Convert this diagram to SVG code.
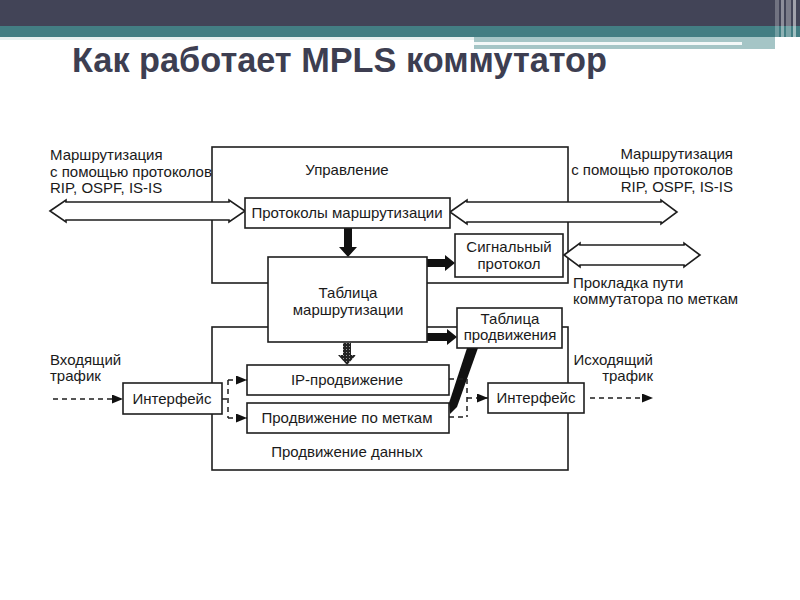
<svg xmlns="http://www.w3.org/2000/svg" width="800" height="600" viewBox="0 0 800 600">
<defs>
<style>
.t{font-family:"Liberation Sans",Arial,sans-serif;font-size:15px;fill:#1a1a1a}
.m{text-anchor:middle}
.e{text-anchor:end}
.box{fill:#fff;stroke:#1e1e1e;stroke-width:1.6}
.frame{fill:none;stroke:#1e1e1e;stroke-width:1.6}
.hol{fill:#fff;stroke:#1e1e1e;stroke-width:1.6;stroke-linejoin:miter}
.thick{fill:#111}
.dash{fill:none;stroke:#1e1e1e;stroke-width:1.5;stroke-dasharray:5 4}
</style>
<marker id="ah" markerUnits="userSpaceOnUse" markerWidth="13" markerHeight="11" refX="11" refY="4.5" orient="auto">
<path d="M0,0 L11,4.5 L0,9 Z" fill="#111"/>
</marker>
<pattern id="hatch" width="3" height="3" patternUnits="userSpaceOnUse">
<rect width="3" height="3" fill="#222"/>
<rect x="1" y="1" width="1" height="1" fill="#999"/>
</pattern>
</defs>
<rect width="800" height="600" fill="#fff"/>
<g id="header">
<rect x="0" y="0" width="800" height="26" fill="#424457"/>
<rect x="0" y="26" width="800" height="11" fill="#437e83"/>
<rect x="0" y="37" width="474" height="3" fill="#e8f0f0"/>
<rect x="474" y="37" width="301" height="12" fill="#a5c5c6"/>
<rect x="474" y="42" width="268" height="3" fill="#f4f8f8"/>
<rect x="775" y="0" width="4" height="50" fill="#fff" opacity="0.25"/>
<rect x="781" y="0" width="3" height="50" fill="#fff" opacity="0.4"/>
<rect x="786" y="0" width="5" height="50" fill="#fff" opacity="0.3"/>
<rect x="793" y="0" width="3" height="50" fill="#fff" opacity="0.5"/>
<text x="72" y="72" font-family="Liberation Sans,Arial,sans-serif" font-size="35" font-weight="bold" fill="#3d3e51" textLength="535" lengthAdjust="spacingAndGlyphs">Как работает MPLS коммутатор</text>
</g>
<g id="control-plane">
<rect class="frame" x="212" y="147" width="356" height="136"/>
<text class="t m" x="347" y="175">Управление</text>
</g>
<g id="data-plane">
<rect class="frame" x="212" y="327" width="356" height="143"/>
<text class="t m" x="347" y="457">Продвижение данных</text>
</g>
<g id="connectors">
<polygon id="route-left" class="hol" points="50,211 66,200 66,202 229,202 229,200 245,211 229,222 229,220 66,220 66,222"/>
<polygon id="route-right" class="hol" points="450,212 467,200 467,202 661,202 661,200 677,212 661,224 661,222 467,222 467,224"/>
<polygon id="signal-arrow" class="hol" points="564,255 580,243 580,245 684,245 684,243 700,255 684,267 684,265 580,265 580,267"/>
<polygon class="thick" points="344,228 352,228 352,247 357,247 348,257 339,247 344,247"/>
<polygon class="thick" points="427,259 445,259 445,255 455,263 445,271 445,267 427,267"/>
<polygon class="thick" points="427,333 447,333 447,329 457,337 447,345 447,341 427,341"/>
<polygon fill="url(#hatch)" points="343,343 351,343 351,355 356,355 347,365 338,355 343,355"/>
<polygon class="thick" points="467,348 478,348 457,407 450,414 449,403"/>
<line class="dash" x1="53" y1="399" x2="123" y2="399" marker-end="url(#ah)"/>
<polyline class="dash" points="222,399 228,399"/>
<line class="dash" x1="228" y1="380" x2="228" y2="418"/>
<line class="dash" x1="228" y1="380" x2="247" y2="380" marker-end="url(#ah)"/>
<line class="dash" x1="228" y1="418" x2="247" y2="418" marker-end="url(#ah)"/>
<polyline class="dash" points="449,379 467,379"/>
<polyline class="dash" points="449,417 467,417"/>
<line class="dash" x1="467" y1="379" x2="467" y2="417"/>
<line class="dash" x1="467" y1="398" x2="488" y2="398" marker-end="url(#ah)"/>
<line class="dash" x1="590" y1="398" x2="653" y2="398" marker-end="url(#ah)"/>
</g>
<g id="routing-protocols">
<rect class="box" x="245" y="198" width="205" height="30"/>
<text class="t m" x="347" y="218">Протоколы маршрутизации</text>
</g>
<g id="signal-protocol">
<rect class="box" x="455" y="234" width="108" height="43"/>
<text class="t m" x="509" y="252">Сигнальный</text>
<text class="t m" x="509" y="269">протокол</text>
</g>
<g id="routing-table">
<rect class="box" x="268" y="257" width="159" height="85"/>
<text class="t m" x="348" y="298">Таблица</text>
<text class="t m" x="348" y="315">маршрутизации</text>
</g>
<g id="forwarding-table">
<rect class="box" x="457" y="308" width="105" height="40"/>
<text class="t m" x="510" y="324">Таблица</text>
<text class="t m" x="510" y="340">продвижения</text>
</g>
<g id="ip-forwarding">
<rect class="box" x="247" y="365" width="202" height="30"/>
<text class="t m" x="347" y="385">IP-продвижение</text>
</g>
<g id="label-forwarding">
<rect class="box" x="247" y="403" width="202" height="30"/>
<text class="t m" x="347" y="423">Продвижение по меткам</text>
</g>
<g id="interface-in">
<rect class="box" x="123" y="383" width="99" height="31"/>
<text class="t m" x="172" y="404">Интерфейс</text>
</g>
<g id="interface-out">
<rect class="box" x="488" y="383" width="96" height="30"/>
<text class="t m" x="536" y="403">Интерфейс</text>
</g>
<g id="labels">
<text class="t" x="50" y="160">Маршрутизация</text>
<text class="t" x="50" y="176.5">с помощью протоколов</text>
<text class="t" x="50" y="193">RIP, OSPF, IS-IS</text>
<text class="t e" x="733" y="158.5">Маршрутизация</text>
<text class="t e" x="733" y="175">с помощью протоколов</text>
<text class="t e" x="733" y="191.5">RIP, OSPF, IS-IS</text>
<text class="t" x="573" y="288">Прокладка пути</text>
<text class="t" x="573" y="304">коммутатора по меткам</text>
<text class="t" x="50" y="365">Входящий</text>
<text class="t" x="50" y="381">трафик</text>
<text class="t e" x="653" y="365">Исходящий</text>
<text class="t e" x="653" y="381">трафик</text>
</g>
</svg>
